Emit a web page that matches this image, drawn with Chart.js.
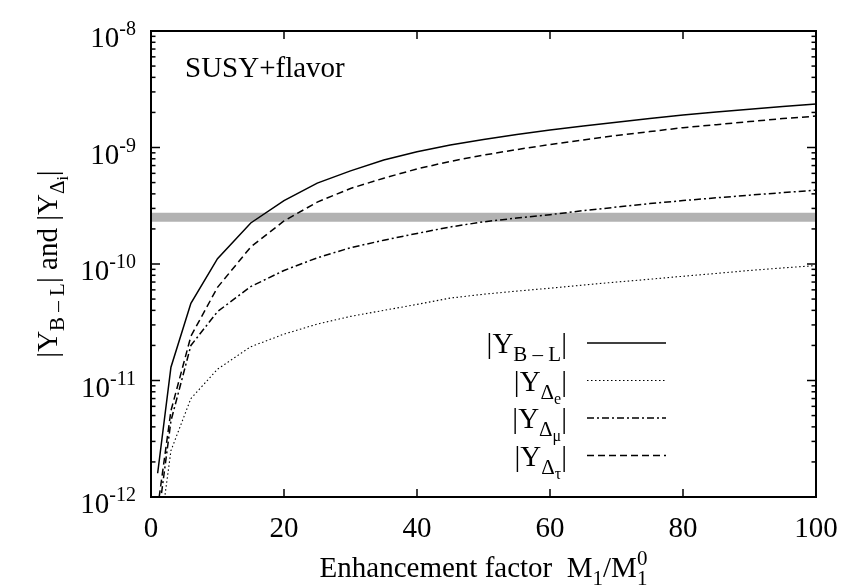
<!DOCTYPE html>
<html>
<head>
<meta charset="utf-8">
<script src="https://cdn.jsdelivr.net/npm/chart.js@4.4.1/dist/chart.umd.min.js"></script>
<style>
  html, body { margin: 0; padding: 0; background: #fff; }
</style>
</head>
<body>
<canvas id="chart" width="844" height="588"></canvas>
<script>
var xValues = [1, 3, 6, 10, 15, 20, 25, 30, 35, 40, 45, 50, 55, 60, 65, 70, 75, 80, 85, 90, 95, 100];
var yBL  = [1.6e-12, 1.3e-11, 4.6e-11, 1.11e-10, 2.25e-10, 3.5e-10, 4.95e-10, 6.3e-10, 7.8e-10, 9.2e-10, 1.05e-9,
            1.17e-9, 1.29e-9, 1.41e-9, 1.53e-9, 1.65e-9, 1.77e-9, 1.9e-9, 2.02e-9, 2.13e-9, 2.25e-9, 2.36e-9];
var yE   = [0.35e-12, 2.5e-12, 7e-12, 1.25e-11, 1.95e-11, 2.5e-11, 3.05e-11, 3.55e-11, 4.0e-11, 4.5e-11, 5.1e-11,
            5.5e-11, 5.85e-11, 6.2e-11, 6.6e-11, 7.0e-11, 7.4e-11, 7.85e-11, 8.3e-11, 8.8e-11, 9.25e-11, 9.7e-11];
var yMu  = [0.6e-12, 4.5e-12, 2.0e-11, 3.9e-11, 6.4e-11, 8.8e-11, 1.13e-10, 1.38e-10, 1.6e-10, 1.83e-10, 2.08e-10,
            2.3e-10, 2.48e-10, 2.65e-10, 2.87e-10, 3.08e-10, 3.3e-10, 3.5e-10, 3.7e-10, 3.9e-10, 4.1e-10, 4.3e-10];
var yTau = [0.8e-12, 5.5e-12, 2.4e-11, 6.3e-11, 1.4e-10, 2.34e-10, 3.4e-10, 4.45e-10, 5.45e-10, 6.55e-10, 7.6e-10,
            8.6e-10, 9.6e-10, 1.06e-9, 1.16e-9, 1.27e-9, 1.37e-9, 1.48e-9, 1.57e-9, 1.67e-9, 1.77e-9, 1.86e-9];

// observed band
var bandX = [0, 100];
var bandLow = 2.3e-10;
var bandHigh = 2.75e-10;

var xTicks = [0, 20, 40, 60, 80, 100];
var yExponents = [-12, -11, -10, -9, -8];

var FONT = '"Liberation Serif", "Times New Roman", serif';
var BIG = 29, SUB = 21, SUB2 = 16;

function toPoints(xs, ys) {
  return xs.map(function(x, i) { return { x: x, y: ys[i] }; });
}

// rich text: list of pieces {t, size, dy, keep}
function richWidth(ctx, parts) {
  var w = 0;
  parts.forEach(function(p) {
    ctx.font = p.size + 'px ' + FONT;
    if (!p.keep) w += ctx.measureText(p.t).width;
  });
  return w;
}
function drawRich(ctx, parts, x, y) {
  parts.forEach(function(p) {
    ctx.font = p.size + 'px ' + FONT;
    ctx.fillText(p.t, x, y + (p.dy || 0));
    if (!p.keep) x += ctx.measureText(p.t).width;
  });
}
function line(ctx, x1, y1, x2, y2) {
  ctx.beginPath();
  ctx.moveTo(x1, y1);
  ctx.lineTo(x2, y2);
  ctx.stroke();
}

var seriesLabels = [
  [{ t: '|Y', size: BIG }, { t: 'B \u2013 L', size: SUB, dy: 8 }, { t: '|', size: BIG }],
  [{ t: '|Y', size: BIG }, { t: '\u0394', size: SUB, dy: 8 }, { t: 'e', size: SUB2, dy: 13 }, { t: '|', size: BIG }],
  [{ t: '|Y', size: BIG }, { t: '\u0394', size: SUB, dy: 8 }, { t: '\u03bc', size: SUB2, dy: 13 }, { t: '|', size: BIG }],
  [{ t: '|Y', size: BIG }, { t: '\u0394', size: SUB, dy: 8 }, { t: '\u03c4', size: SUB2, dy: 13 }, { t: '|', size: BIG }]
];

var gnuplotLook = {
  id: 'gnuplotLook',
  afterDraw: function(chart) {
    var ctx = chart.ctx;
    var area = chart.chartArea;
    var xs = chart.scales.x;
    var ys = chart.scales.y;
    ctx.save();
    ctx.fillStyle = '#000';
    ctx.strokeStyle = '#000';
    ctx.setLineDash([]);

    // inward ticks on all four sides
    ctx.lineWidth = 1.5;
    xTicks.forEach(function(v) {
      var px = xs.getPixelForValue(v);
      line(ctx, px, area.bottom, px, area.bottom - 8);
      line(ctx, px, area.top, px, area.top + 8);
    });
    yExponents.forEach(function(e) {
      for (var k = 1; k <= 9; k++) {
        if (e === -8 && k > 1) break;
        var py = ys.getPixelForValue(k * Math.pow(10, e));
        var len = k === 1 ? 9 : 4.5;
        line(ctx, area.left, py, area.left + len, py);
        line(ctx, area.right, py, area.right - len, py);
      }
    });
    ctx.lineWidth = 2;
    ctx.strokeRect(area.left, area.top, area.right - area.left, area.bottom - area.top);

    // tick labels
    ctx.textBaseline = 'alphabetic';
    ctx.textAlign = 'left';
    xTicks.forEach(function(v) {
      var parts = [{ t: String(v), size: BIG }];
      var w = richWidth(ctx, parts);
      drawRich(ctx, parts, xs.getPixelForValue(v) - w / 2, area.bottom + 40);
    });
    yExponents.forEach(function(e) {
      var parts = [{ t: '10', size: BIG }, { t: String(e), size: 20, dy: -12 }];
      var w = richWidth(ctx, parts);
      drawRich(ctx, parts, area.left - 15 - w, ys.getPixelForValue(Math.pow(10, e)) + 16);
    });

    // axis titles
    var xTitle = [{ t: 'Enhancement factor  M', size: BIG }, { t: '1', size: SUB, dy: 8 },
                  { t: '/M', size: BIG }, { t: '1', size: SUB, dy: 8, keep: true }, { t: '0', size: SUB, dy: -12 }];
    var wx = richWidth(ctx, xTitle);
    drawRich(ctx, xTitle, (area.left + area.right) / 2 - wx / 2, area.bottom + 80);

    var yTitle = [{ t: '|Y', size: BIG }, { t: 'B \u2013 L', size: SUB, dy: 7 }, { t: '| and |Y', size: BIG },
                  { t: '\u0394', size: SUB, dy: 7 }, { t: 'i', size: SUB2, dy: 11 }, { t: '|', size: BIG }];
    var wy = richWidth(ctx, yTitle);
    ctx.save();
    ctx.translate(area.left - 94, (area.top + area.bottom) / 2);
    ctx.rotate(-Math.PI / 2);
    drawRich(ctx, yTitle, -wy / 2, 0);
    ctx.restore();

    // label inside the plot
    drawRich(ctx, [{ t: 'SUSY+flavor', size: BIG }], area.left + 34, area.top + 46);

    // key, bottom right
    var curves = chart.data.datasets.filter(function(d) { return d.inKey; });
    curves.forEach(function(ds, i) {
      var rowY = area.top + 312 + i * 37.5;
      var parts = seriesLabels[i];
      var w = richWidth(ctx, parts);
      drawRich(ctx, parts, area.left + 416 - w, rowY + 10);
      ctx.lineWidth = ds.borderWidth;
      ctx.setLineDash(ds.borderDash || []);
      line(ctx, area.left + 436, rowY, area.left + 515, rowY);
      ctx.setLineDash([]);
    });
    ctx.restore();
  }
};

var ctx = document.getElementById('chart').getContext('2d');
new Chart(ctx, {
  type: 'line',
  data: {
    datasets: [
      { data: toPoints(xValues, yBL), borderColor: '#000', borderWidth: 1.5, inKey: true },
      { data: toPoints(xValues, yE), borderColor: '#000', borderWidth: 1.1, borderDash: [1.5, 2.5], inKey: true },
      { data: toPoints(xValues, yMu), borderColor: '#000', borderWidth: 1.5, borderDash: [7, 3, 2, 3], inKey: true },
      { data: toPoints(xValues, yTau), borderColor: '#000', borderWidth: 1.5, borderDash: [7, 4], inKey: true },
      { data: toPoints(bandX, [bandHigh, bandHigh]), borderWidth: 0, borderColor: 'rgba(0,0,0,0)',
        backgroundColor: '#b2b2b2', fill: '+1', order: 10 },
      { data: toPoints(bandX, [bandLow, bandLow]), borderWidth: 0, borderColor: 'rgba(0,0,0,0)', fill: false, order: 10 }
    ]
  },
  options: {
    responsive: false,
    animation: false,
    layout: { padding: { left: 151, right: 28, top: 31, bottom: 91 } },
    elements: { point: { radius: 0 }, line: { tension: 0 } },
    scales: {
      x: { type: 'linear', min: 0, max: 100, display: false },
      y: { type: 'logarithmic', min: 1e-12, max: 1e-8, display: false }
    },
    plugins: { legend: { display: false }, tooltip: { enabled: false } }
  },
  plugins: [gnuplotLook]
});
</script>
</body>
</html>
